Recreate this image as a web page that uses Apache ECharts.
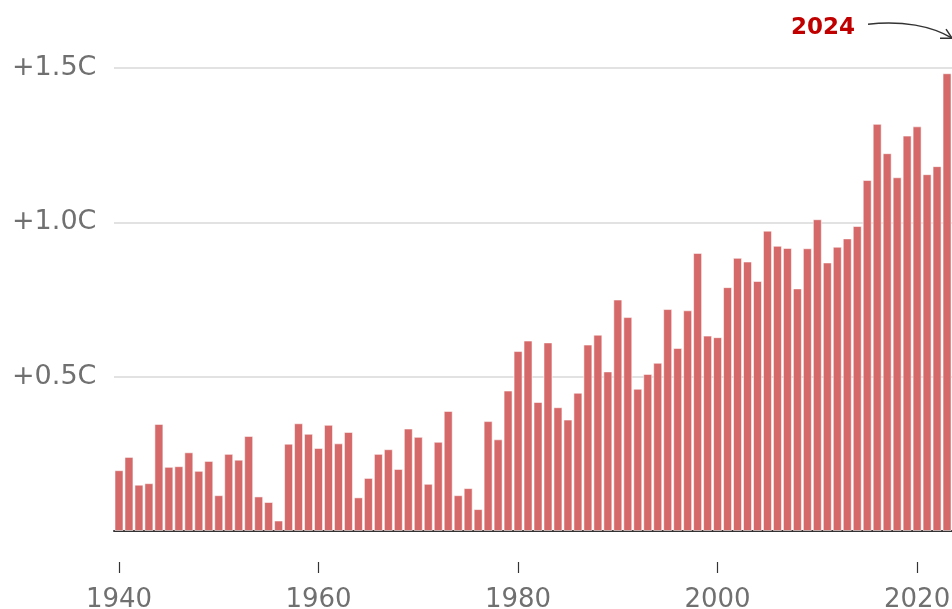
<!DOCTYPE html>
<html>
<head>
<meta charset="utf-8">
<script src="https://cdn.jsdelivr.net/npm/echarts@6/dist/echarts.min.js"></script>
<style>
  html, body { margin: 0; padding: 0; background: #fff; }
  #chart { width: 952px; height: 609px; }
</style>
</head>
<body>
<div id="chart"></div>
<script>
// Annual global temperature vs pre-industrial, degrees C
const years = [
  1940, 1941, 1942, 1943, 1944, 1945, 1946, 1947, 1948, 1949,
  1950, 1951, 1952, 1953, 1954, 1955, 1956, 1957, 1958, 1959,
  1960, 1961, 1962, 1963, 1964, 1965, 1966, 1967, 1968, 1969,
  1970, 1971, 1972, 1973, 1974, 1975, 1976, 1977, 1978, 1979,
  1980, 1981, 1982, 1983, 1984, 1985, 1986, 1987, 1988, 1989,
  1990, 1991, 1992, 1993, 1994, 1995, 1996, 1997, 1998, 1999,
  2000, 2001, 2002, 2003, 2004, 2005, 2006, 2007, 2008, 2009,
  2010, 2011, 2012, 2013, 2014, 2015, 2016, 2017, 2018, 2019,
  2020, 2021, 2022, 2023, 2024
].map(String)

const anomaly = [
  0.197, 0.240, 0.150, 0.155, 0.347, 0.208, 0.210, 0.255, 0.195, 0.227,
  0.116, 0.250, 0.231, 0.308, 0.112, 0.094, 0.034, 0.283, 0.349, 0.315,
  0.269, 0.344, 0.284, 0.321, 0.109, 0.172, 0.250, 0.265, 0.201, 0.332,
  0.305, 0.153, 0.289, 0.389, 0.116, 0.139, 0.071, 0.356, 0.297, 0.455,
  0.583, 0.617, 0.418, 0.611, 0.401, 0.361, 0.448, 0.604, 0.636, 0.517,
  0.750, 0.693, 0.461, 0.509, 0.545, 0.719, 0.593, 0.715, 0.901, 0.633,
  0.628, 0.790, 0.885, 0.873, 0.810, 0.973, 0.924, 0.917, 0.786, 0.916,
  1.010, 0.870, 0.921, 0.948, 0.988, 1.137, 1.319, 1.224, 1.146, 1.281,
  1.311, 1.156, 1.182, 1.483, 1.600
]

const yTicks = [0, 0.5, 1.0, 1.5]
const yearStep = 20 // label/tick every 20 years from 1940
const highlightYear = '2024'

const labelFont = 'DejaVu Sans'
const grey = '#707070'
const barColor = '#d56868'

const chart = echarts.init(document.getElementById('chart'))

chart.setOption({
  animation: false,
  // plot runs on past the right edge so the 2024 bar sits just out of view
  grid: { left: 114, width: 848, top: 68, bottom: 78, outerBoundsMode: 'none', containLabel: false },
  xAxis: [
    {
      type: 'category',
      data: years,
      axisLine: { lineStyle: { color: '#333', width: 2 } },
      axisTick: { show: false },
      axisLabel: { show: false },
    },
    {
      type: 'category',
      data: years,
      position: 'bottom',
      offset: 31,
      axisLine: { show: true, lineStyle: { color: '#fff', opacity: 0 } },
      axisTick: { show: true, alignWithLabel: true, interval: yearStep - 1, length: 11, lineStyle: { color: '#333', width: 1.2, opacity: 1 } },
      axisLabel: { interval: yearStep - 1, color: grey, fontSize: 26, fontFamily: labelFont, margin: 25 },
    },
  ],
  yAxis: {
    type: 'value',
    min: yTicks[0],
    max: yTicks[yTicks.length - 1],
    interval: 0.5,
    axisLine: { show: false },
    axisTick: { show: false },
    splitLine: { lineStyle: { color: '#d9d9d9', width: 1.5 } },
    axisLabel: {
      align: 'left',
      margin: 102,
      padding: [10, 0, 0, 0],
      color: grey,
      fontSize: 27,
      fontFamily: labelFont,
      formatter: (v) => (v === 0 ? '' : '+' + v.toFixed(1) + 'C'),
    },
  },
  series: [
    {
      type: 'bar',
      data: anomaly,
      barWidth: 9,
      itemStyle: { color: barColor, borderColor: 'rgba(255,255,255,0.55)', borderWidth: 1 },
    },
  ],
})

// annotation arrow pointing at the 2024 bar (just past the right edge)
const [px, py] = chart.convertToPixel({ xAxisIndex: 0, yAxisIndex: 0 }, [highlightYear, anomaly[years.indexOf(highlightYear)]])
const tipX = px - 5
const tipY = py + 1

chart.setOption({
  graphic: [
    {
      type: 'text',
      left: tipX - 161,
      top: tipY - 22,
      style: { text: highlightYear, fill: '#c00000', font: 'bold 23px "DejaVu Sans"' },
    },
    {
      type: 'bezierCurve',
      shape: { x1: tipX - 84, y1: tipY - 14, cpx1: tipX - 50, cpy1: tipY - 18, cpx2: tipX - 20, cpy2: tipY - 12, x2: tipX, y2: tipY },
      style: { stroke: '#333', lineWidth: 1.5, fill: null },
    },
    {
      type: 'polyline',
      shape: { points: [[tipX - 6, tipY - 9], [tipX, tipY], [tipX - 12, tipY]] },
      style: { stroke: '#333', lineWidth: 1.5, fill: null },
    },
  ],
})
</script>
</body>
</html>
